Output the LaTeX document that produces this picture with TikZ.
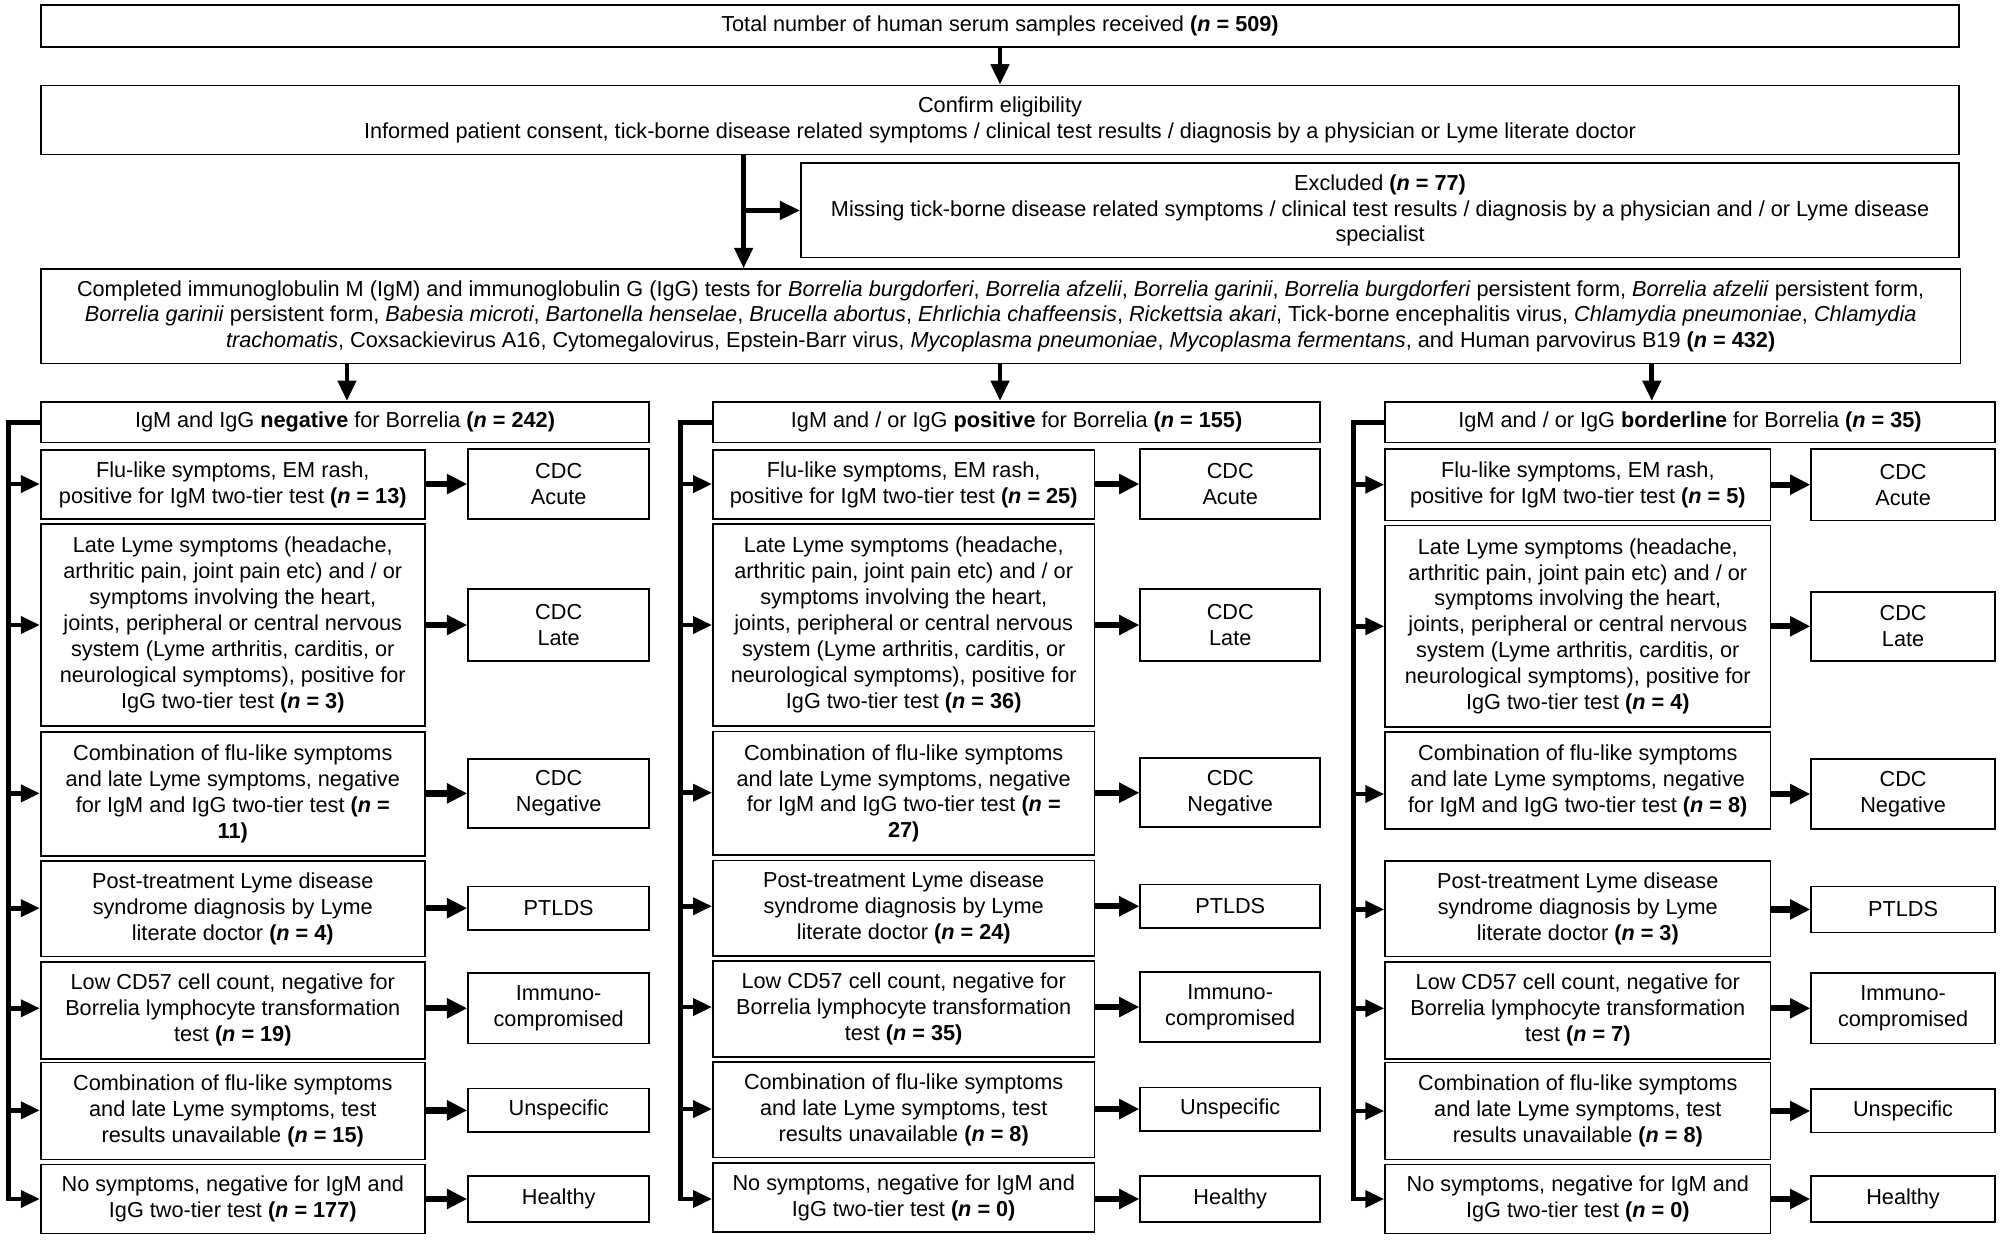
\documentclass[tikz,border=0pt]{standalone}
\usepackage{fontspec}
\setmainfont{Liberation Sans}
\usetikzlibrary{arrows.meta}
\newcommand{\nn}[1]{\textbf{(\textit{n} = #1)}}
\newcommand{\fs}{\fontsize{17pt}{20.3pt}\selectfont}
\begin{document}
\begin{tikzpicture}[x=1pt,y=-1pt,
  bx/.style={draw, line width=1.3pt, align=center, inner sep=0pt, font=\fs},
  busline/.style={line width=3.8pt, -{Triangle[length=15pt,width=13pt]}},
  larr/.style={line width=3.8pt, -{Triangle[length=15pt,width=13pt]}},
  rarr/.style={line width=5pt, -{Triangle[length=16pt,width=15pt]}},
  varr/.style={line width=3.8pt, -{Triangle[length=16pt,width=14pt]}}]
\fill[white] (0,0) rectangle (1568,972);
\useasboundingbox (0,0) rectangle (1568,972);

% ---- top part ----
\node[bx, minimum width=1504pt, minimum height=33pt] (top) at (784,20.5)
  {Total number of human serum samples received \nn{509}};
\node[bx, minimum width=1504pt, minimum height=54pt] (conf) at (784,94)
  {Confirm eligibility\\Informed patient consent, tick-borne disease related symptoms / clinical test results / diagnosis by a physician or Lyme literate doctor};
\node[bx, minimum width=908pt, minimum height=74pt] (excl) at (1082,165)
  {Excluded \nn{77}\\Missing tick-borne disease related symptoms / clinical test results / diagnosis by a physician and / or Lyme disease\\specialist};
\node[bx, minimum width=1505pt, minimum height=74pt] (comp) at (784.5,248)
  {Completed immunoglobulin M (IgM) and immunoglobulin G (IgG) tests for \textit{Borrelia burgdorferi}, \textit{Borrelia afzelii}, \textit{Borrelia garinii}, \textit{Borrelia burgdorferi} persistent form, \textit{Borrelia afzelii} persistent form,\\
   \textit{Borrelia garinii} persistent form, \textit{Babesia microti}, \textit{Bartonella henselae}, \textit{Brucella abortus}, \textit{Ehrlichia chaffeensis}, \textit{Rickettsia akari}, Tick-borne encephalitis virus, \textit{Chlamydia pneumoniae}, \textit{Chlamydia}\\
   \textit{trachomatis}, Coxsackievirus A16, Cytomegalovirus, Epstein-Barr virus, \textit{Mycoplasma pneumoniae}, \textit{Mycoplasma fermentans}, and Human parvovirus B19 \nn{432}};

\coordinate (mx) at (583,0);
\draw[varr] (top) -- (conf);
\draw[varr] (conf.south -| mx) -- (comp.north -| mx);
\draw[varr] (excl.west -| mx) -- (excl.west);

% ---- headers ----
\node[bx, minimum width=477pt, minimum height=32pt] (ha) at (270.5,331)
  {IgM and IgG \textbf{negative} for Borrelia \nn{242}};
\node[bx, minimum width=476pt, minimum height=32pt] (hb) at (797,331)
  {IgM and / or IgG \textbf{positive} for Borrelia \nn{155}};
\node[bx, minimum width=478pt, minimum height=32pt] (hc) at (1325,331)
  {IgM and / or IgG \textbf{borderline} for Borrelia \nn{35}};

\coordinate (ka) at (272,0);
\coordinate (kb) at (784,0);
\coordinate (kc) at (1295,0);
\draw[varr] (comp.south -| ka) -- (ha.north -| ka);
\draw[varr] (comp.south -| kb) -- (hb.north -| kb);
\draw[varr] (comp.south -| kc) -- (hc.north -| kc);

% ---- negative column ----
\node[bx, minimum width=301pt, minimum height=54pt] (aL1) at (182.5,380)
  {Flu-like symptoms, EM rash,\\positive for IgM two-tier test \nn{13}};
\node[bx, minimum width=301pt, minimum height=158pt] (aL2) at (182.5,490)
  {Late Lyme symptoms (headache,\\arthritic pain, joint pain etc) and / or\\symptoms involving the heart,\\joints, peripheral or central nervous\\system (Lyme arthritis, carditis, or\\neurological symptoms), positive for\\IgG two-tier test \nn{3}};
\node[bx, minimum width=301pt, minimum height=97pt] (aL3) at (182.5,622.5)
  {Combination of flu-like symptoms\\and late Lyme symptoms, negative\\for IgM and IgG two-tier test \textbf{(\textit{n} =}\\\textbf{11)}};
\node[bx, minimum width=301pt, minimum height=75pt] (aL4) at (182.5,712.5)
  {Post-treatment Lyme disease\\syndrome diagnosis by Lyme\\literate doctor \nn{4}};
\node[bx, minimum width=301pt, minimum height=76pt] (aL5) at (182.5,792)
  {Low CD57 cell count, negative for\\Borrelia lymphocyte transformation\\test \nn{19}};
\node[bx, minimum width=301pt, minimum height=76pt] (aL6) at (182.5,871)
  {Combination of flu-like symptoms\\and late Lyme symptoms, test\\results unavailable \nn{15}};
\node[bx, minimum width=301pt, minimum height=54pt] (aL7) at (182.5,940)
  {No symptoms, negative for IgM and\\IgG two-tier test \nn{177}};

\node[bx, minimum width=142pt, minimum height=55pt] (aR1) at (438,379.5) {CDC\\Acute};
\node[bx, minimum width=142pt, minimum height=56pt] (aR2) at (438,490) {CDC\\Late};
\node[bx, minimum width=142pt, minimum height=54pt] (aR3) at (438,622) {CDC\\Negative};
\node[bx, minimum width=142pt, minimum height=34pt] (aR4) at (438,712) {PTLDS};
\node[bx, minimum width=142pt, minimum height=55pt] (aR5) at (438,790.5) {Immuno-\\compromised};
\node[bx, minimum width=142pt, minimum height=34pt] (aR6) at (438,870.5) {Unspecific};
\node[bx, minimum width=142pt, minimum height=36pt] (aR7) at (438,940) {Healthy};

% ---- positive column ----
\node[bx, minimum width=299pt, minimum height=54pt] (bL1) at (708.5,380)
  {Flu-like symptoms, EM rash,\\positive for IgM two-tier test \nn{25}};
\node[bx, minimum width=299pt, minimum height=158pt] (bL2) at (708.5,490)
  {Late Lyme symptoms (headache,\\arthritic pain, joint pain etc) and / or\\symptoms involving the heart,\\joints, peripheral or central nervous\\system (Lyme arthritis, carditis, or\\neurological symptoms), positive for\\IgG two-tier test \nn{36}};
\node[bx, minimum width=299pt, minimum height=97pt] (bL3) at (708.5,622)
  {Combination of flu-like symptoms\\and late Lyme symptoms, negative\\for IgM and IgG two-tier test \textbf{(\textit{n} =}\\\textbf{27)}};
\node[bx, minimum width=299pt, minimum height=75pt] (bL4) at (708.5,712)
  {Post-treatment Lyme disease\\syndrome diagnosis by Lyme\\literate doctor \nn{24}};
\node[bx, minimum width=299pt, minimum height=75pt] (bL5) at (708.5,791)
  {Low CD57 cell count, negative for\\Borrelia lymphocyte transformation\\test \nn{35}};
\node[bx, minimum width=299pt, minimum height=75pt] (bL6) at (708.5,870)
  {Combination of flu-like symptoms\\and late Lyme symptoms, test\\results unavailable \nn{8}};
\node[bx, minimum width=299pt, minimum height=54pt] (bL7) at (708.5,939)
  {No symptoms, negative for IgM and\\IgG two-tier test \nn{0}};

\node[bx, minimum width=141pt, minimum height=55pt] (bR1) at (964.5,379.5) {CDC\\Acute};
\node[bx, minimum width=141pt, minimum height=56pt] (bR2) at (964.5,490) {CDC\\Late};
\node[bx, minimum width=141pt, minimum height=54pt] (bR3) at (964.5,621.5) {CDC\\Negative};
\node[bx, minimum width=141pt, minimum height=34pt] (bR4) at (964.5,710.5) {PTLDS};
\node[bx, minimum width=141pt, minimum height=55pt] (bR5) at (964.5,789.5) {Immuno-\\compromised};
\node[bx, minimum width=141pt, minimum height=34pt] (bR6) at (964.5,869.5) {Unspecific};
\node[bx, minimum width=141pt, minimum height=36pt] (bR7) at (964.5,940) {Healthy};

% ---- borderline column ----
\node[bx, minimum width=302pt, minimum height=56pt] (cL1) at (1237,380)
  {Flu-like symptoms, EM rash,\\positive for IgM two-tier test \nn{5}};
\node[bx, minimum width=302pt, minimum height=158pt] (cL2) at (1237,491)
  {Late Lyme symptoms (headache,\\arthritic pain, joint pain etc) and / or\\symptoms involving the heart,\\joints, peripheral or central nervous\\system (Lyme arthritis, carditis, or\\neurological symptoms), positive for\\IgG two-tier test \nn{4}};
\node[bx, minimum width=302pt, minimum height=76pt] (cL3) at (1237,612)
  {Combination of flu-like symptoms\\and late Lyme symptoms, negative\\for IgM and IgG two-tier test \nn{8}};
\node[bx, minimum width=302pt, minimum height=75pt] (cL4) at (1237,712.5)
  {Post-treatment Lyme disease\\syndrome diagnosis by Lyme\\literate doctor \nn{3}};
\node[bx, minimum width=302pt, minimum height=76pt] (cL5) at (1237,792)
  {Low CD57 cell count, negative for\\Borrelia lymphocyte transformation\\test \nn{7}};
\node[bx, minimum width=302pt, minimum height=76pt] (cL6) at (1237,871)
  {Combination of flu-like symptoms\\and late Lyme symptoms, test\\results unavailable \nn{8}};
\node[bx, minimum width=302pt, minimum height=54pt] (cL7) at (1237,940)
  {No symptoms, negative for IgM and\\IgG two-tier test \nn{0}};

\node[bx, minimum width=144pt, minimum height=56pt] (cR1) at (1492,380) {CDC\\Acute};
\node[bx, minimum width=144pt, minimum height=54pt] (cR2) at (1492,491) {CDC\\Late};
\node[bx, minimum width=144pt, minimum height=55pt] (cR3) at (1492,622.5) {CDC\\Negative};
\node[bx, minimum width=144pt, minimum height=36pt] (cR4) at (1492,713) {PTLDS};
\node[bx, minimum width=144pt, minimum height=55pt] (cR5) at (1492,790.5) {Immuno-\\compromised};
\node[bx, minimum width=144pt, minimum height=34pt] (cR6) at (1492,871) {Unspecific};
\node[bx, minimum width=144pt, minimum height=36pt] (cR7) at (1492,940) {Healthy};

% ---- buses and arrows ----
\coordinate (ba) at (6.5,0);
\coordinate (bb) at (533.5,0);
\coordinate (bc) at (1061,0);
\foreach \c in {a,b,c}{
  \draw[busline] (h\c.west) -| (b\c |- \c R7.west) -- (\c L7.west |- \c R7.west);
  \foreach \i in {1,...,6}{
    \draw[larr] (b\c |- \c R\i.west) -- (\c L\i.west |- \c R\i.west);
  }
  \foreach \i in {1,...,7}{
    \draw[rarr] (\c L\i.east |- \c R\i.west) -- (\c R\i.west);
  }
}
\end{tikzpicture}
\end{document}
